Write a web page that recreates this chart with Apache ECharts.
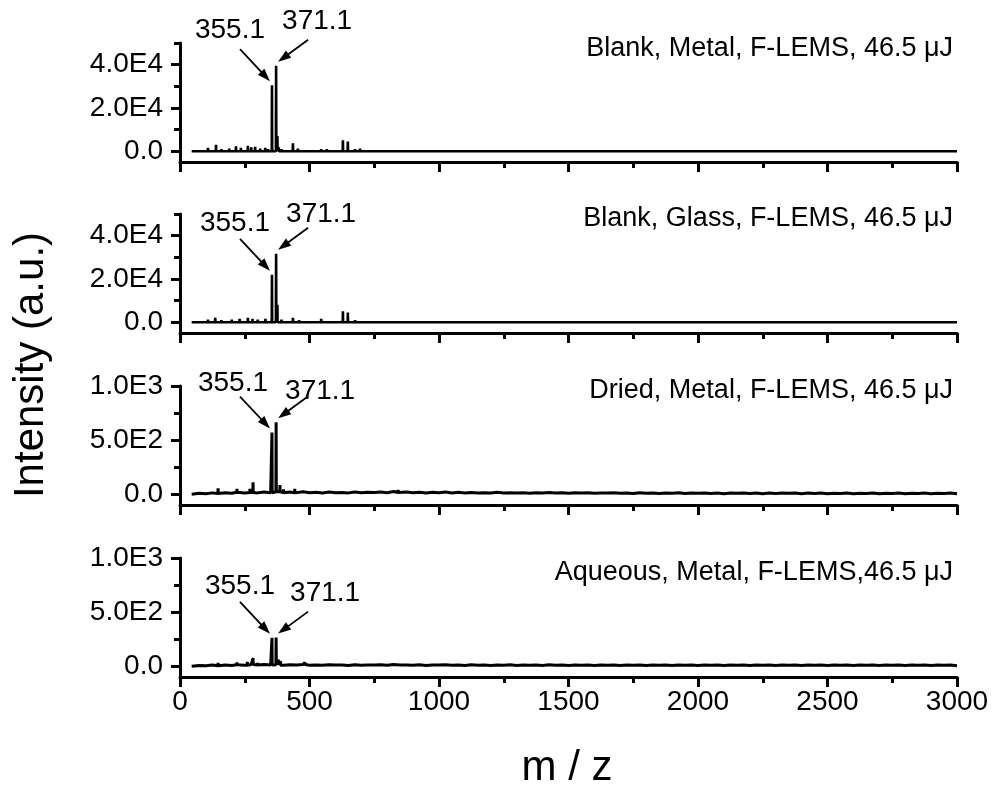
<!DOCTYPE html>
<html><head><meta charset="utf-8">
<script src="https://cdn.jsdelivr.net/npm/echarts@6/dist/echarts.min.js"></script>
<style>html,body{margin:0;padding:0;background:#fff}#c{width:995px;height:794px}</style>
</head><body><div id="c"></div>
<script>
// ---------- DATA ----------
const panelTitles = ['Blank, Metal, F-LEMS, 46.5 μJ', 'Blank, Glass, F-LEMS, 46.5 μJ', 'Dried, Metal, F-LEMS, 46.5 μJ', 'Aqueous, Metal, F-LEMS,46.5 μJ'];
const peakLabels = ['355.1', '371.1'];
const labelledMz = [355.1, 371.1];
const xMin = 0, xMax = 3000, xInterval = 500;
const yMins = [-5000, -5000, -100, -100];
const yMaxs = [50000, 50000, 1000, 1000];
const yMajorTicks = [[0, 20000, 40000], [0, 20000, 40000], [0, 500, 1000], [0, 500, 1000]];
const yMinorTicks = [[10000, 30000, 50000], [10000, 30000, 50000], [250, 750], [250, 750]];
const spectrumStartMz = 45;

const peaksBlankMetal = [[108, 1500], [139, 3000], [160, 1000], [190, 1200], [216, 2300], [235, 1500], [262, 2500], [275, 1800], [290, 2000], [310, 1200], [329, 1500], [340, 1000], [355.1, 30500], [371.1, 39500], [376, 7000], [381, 1800], [392, 1000], [436, 3700], [455, 1200], [545, 1000], [567, 1000], [629, 5000], [648, 4500], [676, 1000], [695, 1200]];
const peaksBlankGlass = [[108, 1200], [136, 2000], [160, 1000], [200, 1200], [230, 1500], [262, 2000], [280, 1500], [300, 1200], [330, 1500], [355.1, 21900], [371.1, 31600], [376, 8000], [392, 1200], [436, 2000], [460, 1000], [545, 1500], [567, 800], [629, 5000], [648, 4500], [676, 1000]];
const peaksDried = [[147, 55], [180, 30], [220, 50], [270, 50], [282, 110], [300, 30], [355.1, 570], [371.1, 665], [386, 85], [400, 45], [443, 50], [842, 40]];
const peaksAqueous = [[147, 30], [220, 35], [260, 40], [282, 75], [300, 30], [355.1, 262], [371.1, 264], [380, 60], [388, 45], [482, 35], [700, 25], [850, 25], [1150, 20], [2000, 20], [2400, 18]];

// baseline noise sampled every 25 m/z from 50 to 3000
const noiseStartMz = 50, noiseStepMz = 25;
const noiseDried = [
  2, 8, 4, 12, 6, 14, 8, 18, 10, 16,
  12, 20, 14, 22, 14, 20, 12, 22, 14, 18,
  10, 20, 14, 16, 12, 20, 14, 18, 16, 20,
  14, 24, 16, 20, 14, 18, 12, 18, 14, 20,
  10, 18, 12, 16, 10, 14, 12, 18, 10, 14,
  10, 14, 8, 14, 10, 16, 10, 14, 8, 14,
  10, 14, 8, 12, 10, 14, 8, 12, 6, 14,
  8, 12, 6, 10, 8, 14, 6, 10, 8, 12,
  6, 10, 5, 10, 8, 12, 6, 10, 5, 10,
  6, 10, 8, 10, 5, 10, 6, 10, 5, 8,
  6, 10, 5, 8, 6, 10, 5, 8, 6, 10,
  5, 8, 6, 10, 5, 8, 6, 10,
  4];
const noiseAqueous = [
  2, 6, 3, 10, 5, 12, 7, 14, 8, 16,
  10, 16, 10, 14, 8, 14, 10, 16, 8, 12,
  8, 14, 10, 12, 6, 14, 8, 12, 10, 14,
  8, 16, 10, 12, 8, 14, 6, 12, 10, 14,
  8, 12, 6, 14, 8, 10, 6, 12, 8, 14,
  6, 12, 8, 10, 6, 14, 8, 10, 6, 12,
  8, 10, 6, 12, 8, 10, 6, 12, 8, 10,
  6, 12, 8, 10, 6, 10, 8, 12, 6, 10,
  8, 10, 6, 10, 8, 12, 6, 10, 8, 10,
  6, 10, 8, 10, 6, 12, 8, 10, 6, 10,
  8, 10, 6, 10, 8, 10, 6, 10, 8, 10,
  6, 10, 8, 10, 6, 10, 8, 10,
  5];

const panelPeaks = [peaksBlankMetal, peaksBlankGlass, peaksDried, peaksAqueous];
const panelNoise = [null, null, noiseDried, noiseAqueous];

// ---------- LAYOUT ----------
const gridLeft = 180, gridRight = 38, gridHeight = 119;
const gridTops = [43, 214, 386, 558];
const FONT = '"Liberation Sans", Arial, sans-serif';
const AXW = 3;
// annotation offsets (px): arrow tip from peak top, arrow start from tip, text from arrow start
const tipOff = [[-2, -4], [2, -4]];
const startOff = [[-30, -32], [30, -22]];
const textOff = [
  [[-10, -19], [9, -18]],
  [[-5, -16], [13, -14]],
  [[-7, -13], [12, -5]],
  [[0, -16], [17, -18]]
];
const titleY = [49, 219, 391, 573];

function buildSpectrum(peaks, noise) {
  const pts = [[spectrumStartMz, 0]];
  if (noise) noise.forEach((v, i) => pts.push([noiseStartMz + i * noiseStepMz, v]));
  else pts.push([xMax, 0]);
  peaks.forEach(([mz, h]) => {
    let base = 0;
    if (noise) {
      const idx = Math.max(0, Math.min(noise.length - 1, Math.round((mz - noiseStartMz) / noiseStepMz)));
      base = noise[idx];
    }
    pts.push([mz - 0.8, base], [mz, h], [mz + 0.8, base]);
  });
  pts.sort((a, b) => a[0] - b[0]);
  return pts;
}

const fmt = v => v === 0 ? '0.0' : v.toExponential(1).replace('e+', 'E');

const grids = [], xAxes = [], yAxes = [], series = [];
for (let i = 0; i < 4; i++) {
  grids.push({ left: gridLeft, right: gridRight, top: gridTops[i], height: gridHeight, containLabel: false });
  xAxes.push({
    type: 'value', gridIndex: i, min: xMin, max: xMax, interval: xInterval,
    axisLine: { onZero: false, lineStyle: { color: '#000', width: AXW } },
    axisTick: { show: true, length: 10, lineStyle: { color: '#000', width: AXW } },
    minorTick: { show: true, splitNumber: 2, length: 6, lineStyle: { color: '#000', width: AXW } },
    splitLine: { show: false }, minorSplitLine: { show: false },
    axisLabel: { show: i === 3, color: '#000', fontSize: 28, fontFamily: FONT, margin: 11, formatter: v => String(v) }
  });
  yAxes.push({
    type: 'value', gridIndex: i, position: 'left', min: yMins[i], max: yMaxs[i],
    axisLine: { show: true, onZero: false, lineStyle: { color: '#000', width: AXW } },
    axisTick: { show: true, length: 9, customValues: yMajorTicks[i], lineStyle: { color: '#000', width: AXW } },
    axisLabel: { show: true, customValues: yMajorTicks[i], formatter: fmt, color: '#000', fontSize: 28, fontFamily: FONT, margin: 17 },
    splitLine: { show: false }
  });
  yAxes.push({
    type: 'value', gridIndex: i, position: 'left', min: yMins[i], max: yMaxs[i],
    axisLine: { show: false, onZero: false },
    axisTick: { show: true, length: 6, customValues: yMinorTicks[i], lineStyle: { color: '#000', width: AXW } },
    axisLabel: { show: false }, splitLine: { show: false }
  });
  series.push({
    type: 'line', xAxisIndex: i, yAxisIndex: 2 * i, data: buildSpectrum(panelPeaks[i], panelNoise[i]),
    symbol: 'none', showSymbol: false, silent: true, animation: false,
    lineStyle: { color: '#000', width: i < 2 ? 2.6 : 3, join: 'bevel' }
  });
}

const chart = echarts.init(document.getElementById('c'), null, { renderer: 'canvas' });
chart.setOption({ animation: false, backgroundColor: '#fff', grid: grids, xAxis: xAxes, yAxis: yAxes, series: series });

function arrow(sx, sy, tx, ty) {
  const dx = tx - sx, dy = ty - sy, L = Math.hypot(dx, dy);
  const ux = dx / L, uy = dy / L, hl = 13, hw = 4.5;
  const bx = tx - ux * hl, by = ty - uy * hl;
  return [
    { type: 'line', silent: true, shape: { x1: sx, y1: sy, x2: bx + ux * 2, y2: by + uy * 2 }, style: { stroke: '#000', lineWidth: 1.8 } },
    { type: 'polygon', silent: true, shape: { points: [[tx, ty], [bx - uy * hw, by + ux * hw], [bx + uy * hw, by - ux * hw]] }, style: { fill: '#000' } }
  ];
}

const els = [];
for (let i = 0; i < 4; i++) {
  els.push({ type: 'text', x: 953, y: titleY[i], style: { text: panelTitles[i], fontSize: 27, fontFamily: FONT, fill: '#000', align: 'right', verticalAlign: 'middle' } });
  labelledMz.forEach((mz, k) => {
    const pk = panelPeaks[i].find(p => p[0] === mz);
    const top = chart.convertToPixel({ seriesIndex: i }, [pk[0], pk[1]]);
    const tx = top[0] + tipOff[k][0], ty = top[1] + tipOff[k][1];
    const sx = tx + startOff[k][0], sy = ty + startOff[k][1];
    els.push(...arrow(sx, sy, tx, ty));
    els.push({ type: 'text', x: sx + textOff[i][k][0], y: sy + textOff[i][k][1], style: { text: peakLabels[k], fontSize: 28, fontFamily: FONT, fill: '#000', align: 'center', verticalAlign: 'middle' } });
  });
}
els.push({ type: 'text', x: 567, y: 768, style: { text: 'm / z', fontSize: 42, fontFamily: FONT, fill: '#000', align: 'center', verticalAlign: 'middle' } });
els.push({ type: 'text', x: 31, y: 365, rotation: Math.PI / 2, style: { text: 'Intensity (a.u.)', fontSize: 42, fontFamily: FONT, fill: '#000', align: 'center', verticalAlign: 'middle' } });
chart.setOption({ graphic: { elements: els } });
</script>
</body></html>
